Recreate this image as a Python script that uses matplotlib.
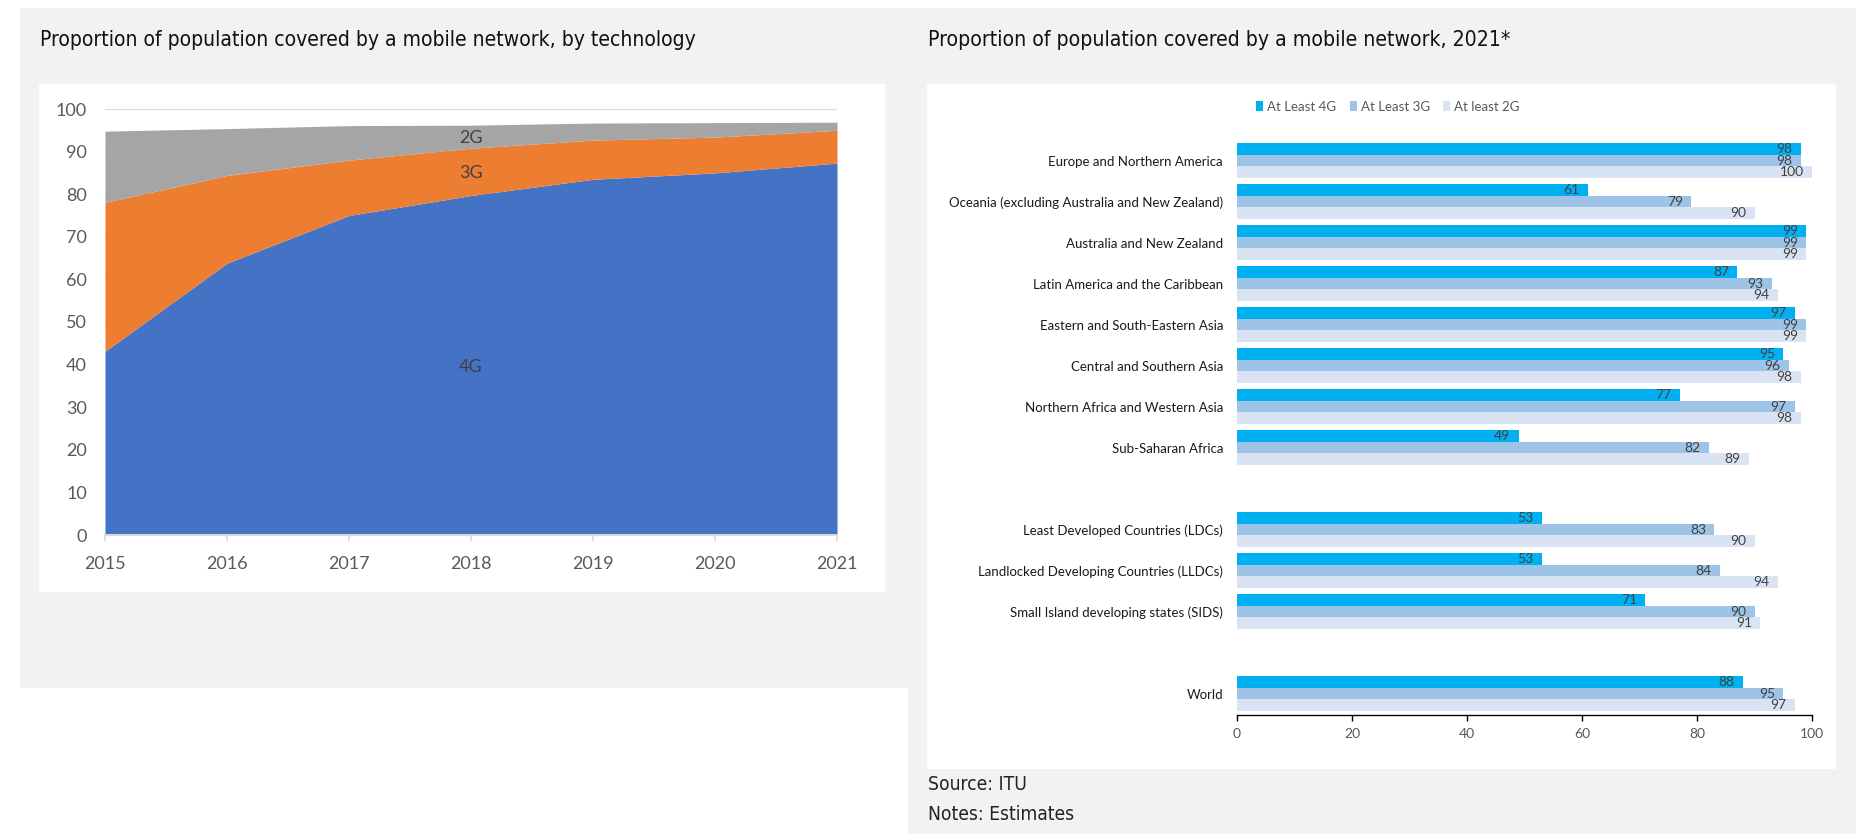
import numpy as np
import matplotlib
matplotlib.use('Agg')
import matplotlib.pyplot as plt
from matplotlib.patches import Rectangle
from matplotlib import font_manager

W, H = 1862, 834

# Left chart: population covered by at least 4G / 3G / 2G (cumulative, %)
years = [2015, 2016, 2017, 2018, 2019, 2020, 2021]
cov_4g = [43.1, 63.8, 75.0, 79.7, 83.5, 85.0, 87.3]
cov_3g = [78.1, 84.4, 88.0, 90.8, 92.7, 93.4, 95.0]
cov_2g = [94.8, 95.4, 96.1, 96.2, 96.7, 96.8, 96.9]

# Right chart: coverage by region, 2021
regions = ['Europe and Northern America',
           'Oceania (excluding Australia and New Zealand)',
           'Australia and New Zealand',
           'Latin America and the Caribbean',
           'Eastern and South-Eastern Asia',
           'Central and Southern Asia',
           'Northern Africa and Western Asia',
           'Sub-Saharan Africa',
           'Least Developed Countries (LDCs)',
           'Landlocked Developing Countries (LLDCs)',
           'Small Island developing states (SIDS)',
           'World']
section = [0, 0, 0, 0, 0, 0, 0, 0, 1, 1, 1, 2]
at_least_4g = [98, 61, 99, 87, 97, 95, 77, 49, 53, 53, 71, 88]
at_least_3g = [98, 79, 99, 93, 99, 96, 97, 82, 83, 84, 90, 95]
at_least_2g = [100, 90, 99, 94, 99, 98, 98, 89, 90, 94, 91, 97]
series_names = ['At Least 4G', 'At Least 3G', 'At least 2G']

CHART_FONT = 'Lato'


def pick_title_font():
    # prefer a condensed/narrow regular face if one is installed
    for f in font_manager.fontManager.ttflist:
        nm = f.name.lower()
        if ('condensed' in str(f.stretch) or 'narrow' in nm or 'condensed' in nm) \
                and f.style == 'normal' and f.weight in (400, 'normal', 'regular') \
                and 'mono' not in nm and 'serif' not in nm.replace('sans', ''):
            return font_manager.FontProperties(fname=f.fname)
    return font_manager.FontProperties(family='Roboto')


def fig_box(x0, y0, x1, y1):
    # pixel box (top-left origin) -> figure fraction [left, bottom, width, height]
    return [x0 / W, 1 - y1 / H, (x1 - x0) / W, (y1 - y0) / H]


def add_rect(fig, x0, y0, x1, y1, color, z):
    b = fig_box(x0, y0, x1, y1)
    fig.add_artist(Rectangle((b[0], b[1]), b[2], b[3], transform=fig.transFigure,
                             facecolor=color, edgecolor='none', zorder=z))


fig = plt.figure(figsize=(W / 100, H / 100), dpi=100)
fig.patch.set_facecolor('white')
renderer = fig.canvas.get_renderer()

# panel backgrounds
add_rect(fig, 20, 8, 908, 688, '#F2F2F2', -3)
add_rect(fig, 908, 8, 1856, 834, '#F2F2F2', -3)
add_rect(fig, 39, 84, 885, 592, 'white', -2)
add_rect(fig, 927, 84, 1836, 769, 'white', -2)

tfont = pick_title_font()


def fitted_text(x, y, s, width_px, color, va):
    # scale the font so the text spans the same width as in the source image
    t = fig.text(x / W, 1 - y / H, s, fontproperties=tfont.copy(), color=color, va=va)
    t.set_fontsize(16)
    w = t.get_window_extent(renderer).width
    t.set_fontsize(min(19, 16 * width_px / w))
    return t


fitted_text(40, 46, 'Proportion of population covered by a mobile network, by technology',
            660, '#111111', 'baseline')
fitted_text(928, 46, 'Proportion of population covered by a mobile network, 2021*',
            587, '#111111', 'baseline')
fitted_text(928, 785, 'Source: ITU', 99, '#222222', 'center')
fitted_text(928, 815, 'Notes: Estimates', 147, '#222222', 'center')

# ---- left: stacked area
ax = fig.add_axes(fig_box(105, 109, 837, 535))
ax.set_facecolor('none')
ax.fill_between(years, 0, cov_4g, color='#4472C4', lw=0)
ax.fill_between(years, cov_4g, cov_3g, color='#ED7D31', lw=0)
ax.fill_between(years, cov_3g, cov_2g, color='#A5A5A5', lw=0)
ax.set_xlim(years[0], years[-1])
ax.set_ylim(0, 100)
ax.set_yticks(range(0, 101, 10))
ax.set_xticks(years)
ax.yaxis.grid(True, color='#D9D9D9', lw=1.5)
ax.set_axisbelow(True)
for s in ['left', 'right', 'top']:
    ax.spines[s].set_visible(False)
ax.spines['bottom'].set_color('#D9D9D9')
ax.spines['bottom'].set_linewidth(1.5)
ax.tick_params(axis='y', length=0, pad=13, labelsize=13, labelcolor='#595959')
ax.tick_params(axis='x', length=4, width=1.2, color='#D9D9D9', pad=11,
               labelsize=13, labelcolor='#595959')
for lab in ax.get_xticklabels() + ax.get_yticklabels():
    lab.set_family(CHART_FONT)
ax.text(2018, 93.2, '2G', ha='center', va='center', fontsize=13, color='#404040', family=CHART_FONT)
ax.text(2018, 85.0, '3G', ha='center', va='center', fontsize=13, color='#404040', family=CHART_FONT)
ax.text(2018, 39.4, '4G', ha='center', va='center', fontsize=13, color='#404040', family=CHART_FONT)

# ---- right: grouped horizontal bars
ax2 = fig.add_axes(fig_box(1237, 136, 1812, 715))
ax2.set_facecolor('none')
pos = np.arange(len(regions)) + np.array(section)
bh = 0.285
colors = ['#00B0F0', '#9DC3E6', '#DAE3F3']
handles = []
for k, (vals, c) in enumerate(zip([at_least_4g, at_least_3g, at_least_2g], colors)):
    bars = ax2.barh(pos + (k - 1) * bh, vals, height=bh, color=c, lw=0)
    handles.append(bars)
    for b, v in zip(bars, vals):
        ax2.annotate(str(v), (b.get_width(), b.get_y() + b.get_height() / 2),
                     xytext=(-6, 0), textcoords='offset points', ha='right', va='center',
                     fontsize=10, color='#404040', family=CHART_FONT)
ax2.set_xlim(0, 100)
ax2.set_ylim(pos[-1] + 0.524, -0.6)
ax2.set_yticks(pos)
ax2.set_yticklabels(regions, family=CHART_FONT, fontsize=9.5, color='#1a1a1a')
ax2.set_xticks(range(0, 101, 20))
for lab in ax2.get_xticklabels():
    lab.set_family(CHART_FONT)
ax2.tick_params(axis='y', length=0, pad=10)
ax2.tick_params(axis='x', length=4, width=1, color='black', pad=5,
                labelsize=10, labelcolor='#595959')
for s in ['left', 'right', 'top']:
    ax2.spines[s].set_visible(False)
ax2.spines['bottom'].set_color('black')
ax2.spines['bottom'].set_linewidth(1)

fig.legend(handles, series_names, loc='center', bbox_to_anchor=(1388 / W, 1 - 107 / H),
           ncol=3, frameon=False, handlelength=0.55, handleheight=0.8, handletextpad=0.3,
           columnspacing=1.0, prop={'family': CHART_FONT, 'size': 9.5}, labelcolor='#595959')

fig.savefig('out.png', dpi=100)
